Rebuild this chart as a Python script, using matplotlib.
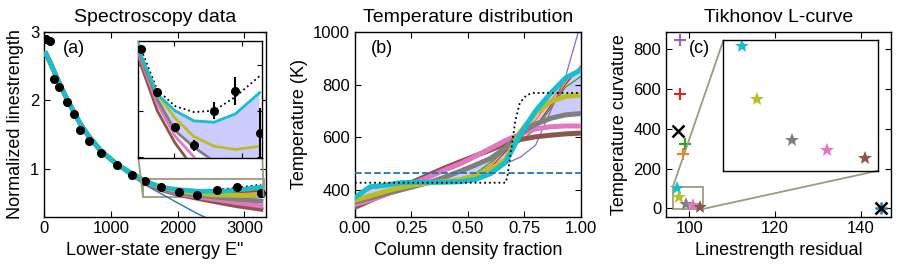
import matplotlib
matplotlib.use('Agg')
import matplotlib.pyplot as plt
from mpl_toolkits.axes_grid1.inset_locator import mark_inset

plt.rcParams['font.family'] = ['Liberation Sans', 'DejaVu Sans']
plt.rcParams['font.size'] = 12
plt.rcParams['xtick.direction'] = 'in'
plt.rcParams['ytick.direction'] = 'in'
plt.rcParams['xtick.top'] = True
plt.rcParams['ytick.right'] = True
plt.rcParams['xtick.major.size'] = 4
plt.rcParams['ytick.major.size'] = 4
plt.rcParams['xtick.labelsize'] = 12
plt.rcParams['ytick.labelsize'] = 12
plt.rcParams['axes.linewidth'] = 1.0

# ---------------- data: panel (a) spectroscopy ----------------
E_lines = [25, 80, 140, 225, 340, 450, 540, 665, 855, 1090, 1310, 1515, 1755, 2015, 2290, 2585, 2895, 3250]
S_obs = [2.89, 2.86, 2.31, 2.19, 1.98, 1.80, 1.57, 1.41, 1.24, 1.06, 0.92, 0.834, 0.741, 0.664, 0.625, 0.70, 0.743, 0.651]
S_err = [0.005, 0.005, 0.005, 0.005, 0.005, 0.005, 0.005, 0.005, 0.006, 0.006, 0.007, 0.008, 0.008, 0.009, 0.012, 0.018, 0.030, 0.055]

S_true = [2.68, 2.57, 2.44, 2.25, 2.02, 1.82, 1.66, 1.48, 1.26, 1.07, 0.94, 0.835, 0.745, 0.71, 0.697, 0.70, 0.73, 0.775]
S_single = [2.68, 2.57, 2.44, 2.25, 2.02, 1.82, 1.66, 1.48, 1.25, 1.05, 0.90, 0.77, 0.64, 0.50, 0.355, 0.22, 0.12, 0.05]
S_orange = [2.68, 2.57, 2.44, 2.25, 2.02, 1.82, 1.66, 1.48, 1.26, 1.07, 0.94, 0.83, 0.74, 0.69, 0.665, 0.66, 0.67, 0.69]
S_green = [2.68, 2.57, 2.44, 2.25, 2.02, 1.82, 1.66, 1.48, 1.26, 1.07, 0.94, 0.83, 0.74, 0.69, 0.67, 0.665, 0.675, 0.70]
S_red = [2.68, 2.57, 2.44, 2.25, 2.02, 1.82, 1.66, 1.48, 1.26, 1.07, 0.94, 0.83, 0.74, 0.69, 0.665, 0.655, 0.66, 0.675]
S_purple = [2.68, 2.57, 2.44, 2.25, 2.02, 1.82, 1.66, 1.48, 1.26, 1.07, 0.94, 0.83, 0.74, 0.695, 0.675, 0.675, 0.69, 0.72]
S_brown = [2.68, 2.57, 2.44, 2.25, 2.02, 1.82, 1.66, 1.48, 1.26, 1.07, 0.925, 0.80, 0.70, 0.63, 0.575, 0.52, 0.465, 0.415]
S_pink = [2.68, 2.57, 2.44, 2.25, 2.02, 1.82, 1.66, 1.48, 1.26, 1.07, 0.93, 0.81, 0.715, 0.645, 0.60, 0.555, 0.51, 0.465]
S_gray = [2.68, 2.57, 2.44, 2.25, 2.02, 1.82, 1.66, 1.48, 1.26, 1.07, 0.935, 0.815, 0.725, 0.657, 0.621, 0.59, 0.562, 0.535]
S_olive = [2.68, 2.57, 2.44, 2.25, 2.02, 1.82, 1.66, 1.48, 1.26, 1.07, 0.94, 0.822, 0.736, 0.684, 0.644, 0.623, 0.616, 0.623]
S_cyan = [2.68, 2.57, 2.44, 2.25, 2.02, 1.82, 1.66, 1.48, 1.26, 1.07, 0.94, 0.822, 0.736, 0.70, 0.678, 0.675, 0.693, 0.739]

# ---------------- data: panel (b) temperature ----------------
frac = [0, 0.067, 0.133, 0.2, 0.267, 0.333, 0.4, 0.467, 0.533, 0.6, 0.667, 0.733, 0.8, 0.867, 0.933, 1.0]
frac_true = [0, 0.667, 0.675, 0.69, 0.71, 0.73, 0.76, 0.79, 1.0]
T_true = [428, 428, 450, 540, 660, 730, 760, 768, 768]
T_single = 466
T_orange = [372, 408, 416, 426, 429, 430, 432, 440, 458, 495, 560, 620, 665, 740, 810, 860]
T_green = [372, 406, 414, 425, 428, 430, 432, 440, 462, 505, 550, 585, 630, 710, 790, 830]
T_red = [372, 405, 415, 425, 428, 430, 432, 438, 452, 485, 545, 600, 640, 720, 800, 870]
T_purple = [372, 405, 414, 424, 428, 430, 432, 436, 445, 462, 500, 525, 570, 700, 830, 1030]
T_brown = [335, 360, 385, 410, 435, 460, 485, 508, 530, 552, 575, 592, 602, 608, 613, 616]
T_pink = [345, 362, 382, 405, 428, 452, 477, 500, 528, 558, 588, 612, 632, 640, 643, 643]
T_gray = [355, 370, 385, 400, 415, 430, 450, 472, 495, 520, 560, 615, 650, 672, 685, 690]
T_olive = [362, 378, 395, 410, 420, 428, 433, 440, 455, 478, 515, 621, 692, 735, 755, 760]
T_cyan = [372, 413, 418, 428, 430, 430, 430, 432, 440, 462, 505, 612, 700, 767, 825, 855]

# ---------------- data: panel (c) L-curve ----------------
plus_colors = ['C4', 'C3', 'C2', 'C1']
plus_resid = [97.85, 97.85, 99.1, 98.5]
plus_curv = [845, 575, 325, 275]
star_colors = ['C9', 'C8', 'C7', 'C6', 'C5']
star_resid = [97.05, 97.7, 99.3, 100.9, 102.6]
star_curv = [103, 58, 23.5, 15, 7.8]
true_resid, true_curv = 97.3, 387
single_resid, single_curv = 144.7, 0

thin_colors = ['C1', 'C2', 'C3', 'C4']
thick_colors = ['C5', 'C6', 'C7', 'C8', 'C9']
fill_color = 'blue'
box_color = '#9a9c80'

fig = plt.figure(figsize=(9, 2.71), dpi=100)
ax1 = fig.add_axes([0.0492, 0.201, 0.246, 0.682])
ax2 = fig.add_axes([0.3944, 0.201, 0.2508, 0.682])
ax3 = fig.add_axes([0.74, 0.201, 0.25, 0.682])


# ---------- (a) ----------
def draw_spectra(ax, lw_thick, ms, full=True):
    ax.fill_between(E_lines, S_gray, S_cyan, color=fill_color, alpha=0.2, lw=0, zorder=1)
    ax.plot(E_lines, S_true, ':', color='k', lw=1.3, zorder=2)
    if full:
        ax.plot(E_lines, S_single, color='C0', lw=1.0, zorder=2)
        for c, s in zip(thin_colors, [S_orange, S_green, S_red, S_purple]):
            ax.plot(E_lines, s, color=c, lw=1.0, zorder=2)
    for c, s in zip(thick_colors, [S_brown, S_pink, S_gray, S_olive, S_cyan]):
        ax.plot(E_lines, s, color=c, lw=lw_thick, zorder=3)
    ax.errorbar(E_lines, S_obs, yerr=S_err, fmt='o', color='k', ms=ms,
                elinewidth=1.5, capsize=0, zorder=4)


draw_spectra(ax1, 3.4, 5.5)
ax1.set_xlim(0, 3320)
ax1.set_ylim(0.31, 3.0)
ax1.set_xticks([0, 1000, 2000, 3000])
ax1.set_yticks([1, 2, 3])
ax1.set_xlabel('Lower-state energy E"', fontsize=13)
ax1.set_ylabel('Normalized linestrength', fontsize=13)
ax1.set_title('Spectroscopy data', fontsize=14, pad=7)
ax1.text(0.085, 0.91, '(a)', transform=ax1.transAxes, fontsize=13, va='center')

axins1 = ax1.inset_axes([0.425, 0.318, 0.56, 0.634])
draw_spectra(axins1, 2.0, 5.5, full=False)
axins1.set_xlim(1480, 3290)
axins1.set_ylim(0.598, 0.852)
axins1.set_xticks([2000, 3000])
axins1.set_yticks([0.6, 0.7, 0.8])
axins1.tick_params(labelleft=False, labelbottom=False, length=3.5)
mark_inset(ax1, axins1, loc1=3, loc2=4, fc='none', ec=box_color, lw=1.3)

# ---------- (b) ----------
ax2.fill_between(frac, T_gray, T_cyan, color=fill_color, alpha=0.2, lw=0, zorder=1)
for c, t in zip(thin_colors, [T_orange, T_green, T_red, T_purple]):
    ax2.plot(frac, t, color=c, lw=0.9, zorder=2)
for c, t in zip(thick_colors, [T_brown, T_pink, T_gray, T_olive, T_cyan]):
    ax2.plot(frac, t, color=c, lw=3.6, zorder=3)
ax2.plot(frac_true, T_true, ':', color='k', lw=1.3, zorder=4)
ax2.axhline(T_single, color='C0', ls='--', lw=1.3, zorder=4)
ax2.set_xlim(0, 1)
ax2.set_ylim(300, 1000)
ax2.set_xticks([0, 0.25, 0.5, 0.75, 1.0])
ax2.set_xticklabels(['0.00', '0.25', '0.50', '0.75', '1.00'])
ax2.set_yticks([400, 600, 800, 1000])
ax2.set_xlabel('Column density fraction', fontsize=13)
ax2.set_ylabel('Temperature (K)', fontsize=13)
ax2.set_title('Temperature distribution', fontsize=14, pad=7)
ax2.text(0.07, 0.91, '(b)', transform=ax2.transAxes, fontsize=13, va='center')


# ---------- (c) ----------
def draw_lcurve(ax):
    for c, r, k in zip(plus_colors, plus_resid, plus_curv):
        ax.plot(r, k, '+', color=c, ms=9, mew=1.5)
    ax.plot(true_resid, true_curv, 'x', color='k', ms=8, mew=1.8)
    ax.plot(single_resid, single_curv, '+', color='C0', ms=9, mew=1.8)
    ax.plot(single_resid, single_curv, 'x', color='k', ms=8, mew=1.8)
    for c, r, k in zip(star_colors, star_resid, star_curv):
        ax.plot(r, k, '*', color=c, ms=10.5, mew=0)


draw_lcurve(ax3)
ax3.set_xlim(94.6, 147.1)
ax3.set_ylim(-41, 887)
ax3.set_xticks([100, 120, 140])
ax3.set_yticks([0, 200, 400, 600, 800])
ax3.set_xlabel('Linestrength residual', fontsize=13)
ax3.set_ylabel('Temperature curvature', fontsize=13)
ax3.set_title('Tikhonov L-curve', fontsize=14, pad=7)
ax3.text(0.1, 0.91, '(c)', transform=ax3.transAxes, fontsize=13, va='center')

axins3 = ax3.inset_axes([0.255, 0.248, 0.688, 0.705])
draw_lcurve(axins3)
axins3.set_xlim(96.2, 103.2)
axins3.set_ylim(-3, 108)
axins3.set_xticks([])
axins3.set_yticks([])
mark_inset(ax3, axins3, loc1=2, loc2=4, fc='none', ec=box_color, lw=1.3)

fig.savefig('out.png', dpi=100)
